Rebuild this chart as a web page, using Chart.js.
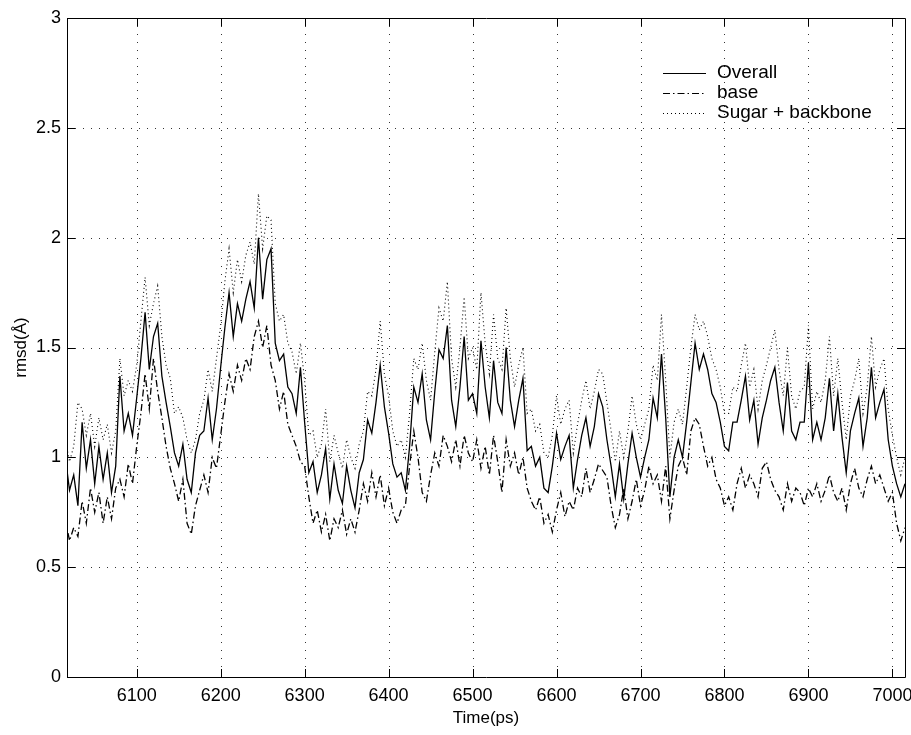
<!DOCTYPE html>
<html>
<head>
<meta charset="utf-8">
<script src="https://cdn.jsdelivr.net/npm/chart.js@4.4.1/dist/chart.umd.min.js"></script>
<style>
  html, body { margin: 0; padding: 0; background: #fff; }
  canvas { display: block; }
</style>
</head>
<body>
<canvas id="rmsdChart" width="911" height="735"></canvas>
<script>
// sampled every 5 ps, starting at 6015 ps
const t_start = 6015;
const t_step = 5;

const overall = [
  1.00, 0.85, 0.92, 0.78, 1.16, 0.95, 1.08, 0.88, 1.05, 0.90, 1.02, 0.84, 0.96, 1.37, 1.12, 1.20, 1.10, 1.27, 1.45, 1.66,
  1.40, 1.55, 1.61, 1.37, 1.25, 1.14, 1.02, 0.96, 1.06, 0.90, 0.84, 1.02, 1.10, 1.12, 1.27, 1.08, 1.22, 1.41, 1.59, 1.75,
  1.55, 1.70, 1.62, 1.72, 1.80, 1.68, 2.00, 1.72, 1.90, 1.95, 1.52, 1.44, 1.47, 1.32, 1.29, 1.20, 1.41, 1.16, 0.93, 0.98,
  0.84, 0.92, 1.04, 0.81, 0.97, 0.85, 0.79, 0.96, 0.85, 0.77, 0.93, 0.99, 1.17, 1.11, 1.25, 1.42, 1.23, 1.11, 0.97, 0.91,
  0.93, 0.85, 1.05, 1.32, 1.25, 1.38, 1.17, 1.08, 1.30, 1.49, 1.45, 1.60, 1.26, 1.14, 1.32, 1.55, 1.26, 1.29, 1.20, 1.53,
  1.32, 1.18, 1.44, 1.25, 1.20, 1.50, 1.26, 1.14, 1.26, 1.36, 1.03, 1.05, 0.96, 1.00, 0.86, 0.84, 0.96, 1.11, 0.99, 1.05,
  1.10, 0.86, 0.99, 1.10, 1.18, 1.05, 1.14, 1.29, 1.23, 1.08, 0.96, 0.82, 0.97, 0.81, 0.97, 1.11, 1.00, 0.91, 1.00, 1.08,
  1.27, 1.18, 1.47, 1.18, 0.82, 1.00, 1.08, 1.00, 1.16, 1.34, 1.52, 1.40, 1.47, 1.40, 1.29, 1.25, 1.16, 1.05, 1.03, 1.16,
  1.16, 1.26, 1.37, 1.17, 1.26, 1.06, 1.18, 1.26, 1.35, 1.41, 1.25, 1.12, 1.34, 1.12, 1.08, 1.16, 1.16, 1.43, 1.08, 1.16,
  1.08, 1.18, 1.36, 1.12, 1.29, 1.09, 0.93, 1.12, 1.20, 1.27, 1.05, 1.18, 1.41, 1.18, 1.25, 1.31, 1.08, 0.96, 0.88, 0.82,
  0.88
];

const base = [
  0.72, 0.62, 0.68, 0.64, 0.80, 0.70, 0.86, 0.75, 0.84, 0.70, 0.82, 0.72, 0.86, 0.90, 0.82, 0.97, 0.88, 1.05, 1.20, 1.38,
  1.22, 1.45, 1.30, 1.18, 1.05, 0.95, 0.88, 0.80, 0.90, 0.70, 0.65, 0.78, 0.85, 0.92, 0.84, 1.00, 0.95, 1.10, 1.25, 1.38,
  1.30, 1.42, 1.35, 1.45, 1.40, 1.55, 1.62, 1.50, 1.60, 1.42, 1.35, 1.22, 1.30, 1.15, 1.10, 1.05, 0.98, 0.96, 0.82, 0.70,
  0.76, 0.66, 0.74, 0.62, 0.72, 0.68, 0.76, 0.65, 0.72, 0.66, 0.76, 0.88, 0.80, 0.93, 0.82, 0.92, 0.78, 0.86, 0.75, 0.70,
  0.76, 0.78, 0.96, 1.12, 1.00, 0.84, 0.80, 0.92, 1.02, 0.96, 1.10, 1.05, 0.98, 1.08, 0.96, 1.10, 1.02, 0.98, 1.08, 0.95,
  1.05, 0.92, 1.10, 0.98, 0.84, 1.08, 0.96, 1.02, 0.92, 1.00, 0.86, 0.80, 0.76, 0.82, 0.70, 0.74, 0.66, 0.76, 0.84, 0.73,
  0.80, 0.76, 0.86, 0.82, 0.95, 0.84, 0.90, 0.97, 0.94, 0.91, 0.78, 0.68, 0.74, 0.86, 0.72, 0.80, 0.90, 0.78, 0.85, 0.96,
  0.88, 0.92, 0.80, 0.96, 0.72, 0.85, 0.96, 1.00, 0.92, 1.12, 1.18, 1.15, 1.05, 0.96, 1.00, 0.90, 0.86, 0.78, 0.82, 0.76,
  0.88, 0.95, 0.86, 0.92, 0.88, 0.82, 0.95, 0.98, 0.90, 0.85, 0.82, 0.76, 0.88, 0.80, 0.86, 0.84, 0.78, 0.86, 0.82, 0.88,
  0.80, 0.85, 0.92, 0.84, 0.80, 0.86, 0.76, 0.88, 0.95, 0.86, 0.82, 0.90, 0.96, 0.88, 0.92, 0.86, 0.80, 0.84, 0.70, 0.62,
  0.68
];

const sugarBackbone = [
  1.08, 0.98, 1.05, 1.25, 1.22, 1.10, 1.20, 1.05, 1.18, 1.08, 1.15, 1.02, 1.12, 1.45, 1.28, 1.35, 1.30, 1.42, 1.62, 1.82,
  1.60, 1.70, 1.78, 1.55, 1.42, 1.36, 1.20, 1.23, 1.18, 1.08, 1.02, 1.08, 1.20, 1.26, 1.40, 1.30, 1.45, 1.60, 1.80, 1.95,
  1.75, 1.90, 1.80, 1.92, 1.98, 1.88, 2.20, 1.95, 2.10, 2.08, 1.70, 1.62, 1.65, 1.52, 1.48, 1.38, 1.52, 1.35, 1.10, 1.12,
  1.00, 1.06, 1.22, 0.98, 1.10, 1.02, 0.95, 1.08, 1.00, 0.95, 1.06, 1.12, 1.30, 1.28, 1.40, 1.62, 1.38, 1.28, 1.12, 1.05,
  1.08, 1.00, 1.20, 1.45, 1.40, 1.52, 1.35, 1.26, 1.48, 1.68, 1.62, 1.80, 1.45, 1.32, 1.50, 1.73, 1.45, 1.50, 1.40, 1.75,
  1.52, 1.38, 1.65, 1.45, 1.40, 1.68, 1.45, 1.32, 1.42, 1.50, 1.20, 1.22, 1.12, 1.15, 1.02, 1.00, 1.10, 1.28, 1.15, 1.22,
  1.26, 1.02, 1.15, 1.26, 1.35, 1.22, 1.30, 1.40, 1.38, 1.25, 1.12, 0.98, 1.12, 1.00, 1.12, 1.28, 1.15, 1.08, 1.15, 1.22,
  1.42, 1.35, 1.65, 1.35, 1.00, 1.16, 1.22, 1.15, 1.32, 1.50, 1.65, 1.58, 1.62, 1.55, 1.45, 1.40, 1.32, 1.20, 1.20, 1.32,
  1.30, 1.42, 1.52, 1.32, 1.40, 1.22, 1.35, 1.42, 1.50, 1.58, 1.40, 1.28, 1.50, 1.28, 1.22, 1.30, 1.32, 1.60, 1.22, 1.30,
  1.25, 1.35, 1.55, 1.28, 1.45, 1.25, 1.08, 1.28, 1.35, 1.45, 1.20, 1.32, 1.55, 1.32, 1.40, 1.45, 1.22, 1.10, 1.00, 0.92,
  1.00
];

const seriesNames = ['Overall', 'base', 'Sugar + backbone'];
const xTickValues = [6100, 6200, 6300, 6400, 6500, 6600, 6700, 6800, 6900, 7000];
const yTickValues = [0, 0.5, 1, 1.5, 2, 2.5, 3];
const xMin = 6017, xMax = 7015;
const yMin = 0, yMax = 3;

let time_values = [];
for (let i = 0; i < overall.length; i++) {
  time_values.push(t_start + i * t_step);
}
const toPoints = arr => arr.map((v, i) => ({ x: time_values[i], y: v }));

const dashes = {
  solid: [],
  dashDot: [7, 3, 1.5, 3],
  dotted: [1, 3]
};

Chart.defaults.font.family = '"Liberation Sans", Arial, Helvetica, sans-serif';
Chart.defaults.color = '#000';

// matlab-like frame: dotted grid, box, inward ticks, legend in the corner
const framePlugin = {
  id: 'framePlugin',
  beforeDatasetsDraw(chart) {
    const { ctx, chartArea: a, scales: { x, y } } = chart;
    ctx.save();
    ctx.strokeStyle = '#333';
    ctx.lineWidth = 1;
    ctx.setLineDash([1, 7]);
    ctx.beginPath();
    xTickValues.forEach(v => {
      const px = Math.round(x.getPixelForValue(v)) + 0.5;
      ctx.moveTo(px, a.top);
      ctx.lineTo(px, a.bottom);
    });
    yTickValues.forEach(v => {
      if (v <= yMin || v >= yMax) return;
      const py = Math.round(y.getPixelForValue(v)) + 0.5;
      ctx.moveTo(a.left, py);
      ctx.lineTo(a.right, py);
    });
    ctx.stroke();
    ctx.restore();
  },
  afterDatasetsDraw(chart) {
    const { ctx, chartArea: a, scales: { x, y } } = chart;
    const tl = 8;
    ctx.save();
    ctx.strokeStyle = '#000';
    ctx.lineWidth = 1;
    ctx.setLineDash([]);
    ctx.beginPath();
    ctx.rect(Math.round(a.left) + 0.5, Math.round(a.top) + 0.5,
             Math.round(a.right - a.left), Math.round(a.bottom - a.top));
    xTickValues.forEach(v => {
      const px = Math.round(x.getPixelForValue(v)) + 0.5;
      ctx.moveTo(px, a.bottom); ctx.lineTo(px, a.bottom - tl);
      ctx.moveTo(px, a.top); ctx.lineTo(px, a.top + tl);
    });
    yTickValues.forEach(v => {
      const py = Math.round(y.getPixelForValue(v)) + 0.5;
      ctx.moveTo(a.left, py); ctx.lineTo(a.left + tl, py);
      ctx.moveTo(a.right, py); ctx.lineTo(a.right - tl, py);
    });
    ctx.stroke();

    // legend
    const lx0 = a.right - 242, lx1 = a.right - 199, tx = a.right - 188;
    const rowY = [a.top + 55, a.top + 75, a.top + 95];
    const styles = [dashes.solid, dashes.dashDot, dashes.dotted];
    ctx.font = '19px "Liberation Sans", Arial, Helvetica, sans-serif';
    ctx.fillStyle = '#000';
    ctx.textBaseline = 'middle';
    seriesNames.forEach((name, i) => {
      ctx.beginPath();
      ctx.setLineDash(styles[i]);
      ctx.moveTo(lx0, rowY[i] + 0.5);
      ctx.lineTo(lx1, rowY[i] + 0.5);
      ctx.stroke();
      ctx.fillText(name, tx, rowY[i]);
    });
    ctx.restore();
  }
};

const ctx = document.getElementById('rmsdChart').getContext('2d');
const rmsdChart = new Chart(ctx, {
  type: 'line',
  data: {
    datasets: [
      { label: seriesNames[0], data: toPoints(overall), borderColor: '#000', borderWidth: 1.3,
        borderDash: dashes.solid, pointRadius: 0, tension: 0, fill: false },
      { label: seriesNames[1], data: toPoints(base), borderColor: '#000', borderWidth: 1.3,
        borderDash: dashes.dashDot, pointRadius: 0, tension: 0, fill: false },
      { label: seriesNames[2], data: toPoints(sugarBackbone), borderColor: '#000', borderWidth: 1.1,
        borderDash: dashes.dotted, pointRadius: 0, tension: 0, fill: false }
    ]
  },
  plugins: [framePlugin],
  options: {
    responsive: false,
    animation: false,
    layout: { padding: { left: 0, right: 6, top: 18, bottom: 0 } },
    plugins: { legend: { display: false }, tooltip: { enabled: false } },
    scales: {
      x: {
        type: 'linear',
        min: xMin,
        max: xMax,
        afterBuildTicks: scale => { scale.ticks = xTickValues.map(v => ({ value: v })); },
        afterFit: scale => { scale.height = 58; scale.paddingLeft = 0; scale.paddingRight = 0; },
        grid: { display: false, drawTicks: false },
        border: { display: false },
        ticks: { font: { size: 18 }, padding: 8, maxRotation: 0, callback: v => String(v) },
        title: { display: true, text: 'Time(ps)', font: { size: 17 }, padding: { top: 0, bottom: 6 } }
      },
      y: {
        min: yMin,
        max: yMax,
        afterBuildTicks: scale => { scale.ticks = yTickValues.map(v => ({ value: v })); },
        afterFit: scale => { scale.width = 67; scale.paddingTop = 0; scale.paddingBottom = 0; },
        grid: { display: false, drawTicks: false },
        border: { display: false },
        ticks: { font: { size: 18 }, padding: 6, callback: v => String(v) },
        title: { display: true, text: 'rmsd(Å)', font: { size: 17 }, padding: { top: 11, bottom: 0 } }
      }
    }
  }
});
</script>
</body>
</html>
